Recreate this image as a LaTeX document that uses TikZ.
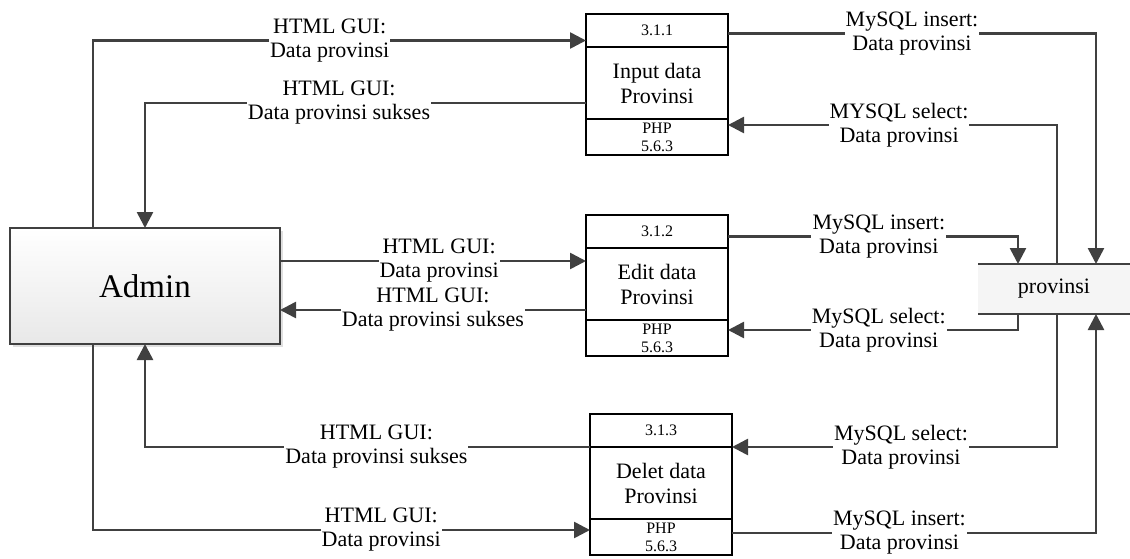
\documentclass[tikz,border=0pt]{standalone}
\usepackage{fontspec}
\setmainfont{Liberation Serif}
\usetikzlibrary{positioning,arrows.meta,shadows}
\definecolor{flowgray}{HTML}{404040}
\tikzset{
  idbox/.style={draw, line width=1.5pt, minimum width=142pt, minimum height=33pt,
    inner sep=0pt, outer sep=0pt, font=\fontsize{16}{18}\selectfont},
  procbox/.style={draw, line width=1.5pt, minimum width=142pt, minimum height=72pt,
    inner sep=0pt, outer sep=0pt, align=center, font=\fontsize{22}{25}\selectfont},
  techbox/.style={draw, line width=1.5pt, minimum width=142pt, minimum height=36pt,
    inner sep=0pt, outer sep=0pt, align=center, font=\fontsize{16}{18}\selectfont},
  entity/.style={draw=flowgray, line width=1.5pt, top color=white, bottom color=black!9,
    drop shadow={shadow xshift=3pt, shadow yshift=-3pt, fill=black!25},
    minimum width=270pt, minimum height=116pt, outer sep=0pt,
    font=\fontsize{33}{38}\selectfont},
  store/.style={fill=black!4, minimum width=152pt, minimum height=50pt,
    inner sep=0pt, outer sep=0pt, font=\fontsize{22}{25}\selectfont},
  storeline/.style={draw=flowgray, line width=1.5pt},
  flow/.style={draw=flowgray, line width=2.6pt, -{Triangle[length=16pt,width=16pt]}},
  lbl/.style={fill=white, inner sep=1pt, align=center, text=black,
    font=\fontsize{22}{24}\selectfont},
}
\begin{document}
\begin{tikzpicture}[x=1pt, y=-1pt]
  \useasboundingbox (0,0) rectangle (1130,558);
  % external entity and data store
  \node[entity] (admin) at (145,286) {Admin};
  \node[store] (store) at (1054,289) {provinsi};
  \draw[storeline] (store.north west) -- (store.north east);
  \draw[storeline] (store.south west) -- (store.south east);
  % processes
  \node[idbox] (p1id) at (657,30.5) {3.1.1};
  \node[procbox, below=0pt of p1id] (p1) {Input data\\Provinsi};
  \node[techbox, below=0pt of p1] (p1php) {PHP\\5.6.3};
  \node[idbox] (p2id) at (657,231.5) {3.1.2};
  \node[procbox, below=0pt of p2id] (p2) {Edit data\\Provinsi};
  \node[techbox, below=0pt of p2] (p2php) {PHP\\5.6.3};
  \node[idbox] (p3id) at (661,430.5) {3.1.3};
  \node[procbox, below=0pt of p3id] (p3) {Delet data\\Provinsi};
  \node[techbox, below=0pt of p3] (p3php) {PHP\\5.6.3};
  % admin <-> processes
  \begin{scope}[every path/.style={flow}]
    \draw ([xshift=83pt]admin.north west) |- ([yshift=-10pt]p1id.west)
      node[lbl, pos=0.74] {HTML GUI:\\Data provinsi};
    \draw ([yshift=-20pt]p1.west) -| ([xshift=135pt]admin.north west)
      node[lbl, pos=0.28] {HTML GUI:\\Data provinsi sukses};
    \draw ([yshift=25pt]admin.east) -- ([yshift=25pt]admin.east -| p2.west)
      node[lbl, pos=0.52] {HTML GUI:\\Data provinsi};
    \draw ([yshift=-26pt]p2.west) -- ([yshift=-26pt]p2.west -| admin.east)
      node[lbl, pos=0.5] {HTML GUI:\\Data provinsi sukses};
    \draw ([xshift=83pt]admin.south west) |- ([yshift=7pt]p3php.west)
      node[lbl, pos=0.79] {HTML GUI:\\Data provinsi};
    \draw (p3id.south west) -| ([xshift=135pt]admin.south west)
      node[lbl, pos=0.24] {HTML GUI:\\Data provinsi sukses};
  \end{scope}
  % processes <-> data store
  \begin{scope}[every path/.style={flow}]
    \draw ([yshift=-3pt]p1id.east) -| ([xshift=-34pt]store.north east)
      node[lbl, pos=0.25] {MySQL insert:\\Data provinsi};
    \draw ([xshift=-73pt]store.north east) |- ([yshift=12pt]p1php.east)
      node[lbl, pos=0.74] {MYSQL select:\\Data provinsi};
    \draw ([yshift=-5pt]p2id.east) -| ([xshift=40pt]store.north west)
      node[lbl, pos=0.26] {MySQL insert:\\Data provinsi};
    \draw ([xshift=40pt]store.south west) |- ([yshift=8pt]p2php.east)
      node[lbl, pos=0.74] {MySQL select:\\Data provinsi};
    \draw ([xshift=-73pt]store.south east) |- (p3id.south east)
      node[lbl, pos=0.74] {MySQL select:\\Data provinsi};
    \draw ([yshift=4pt]p3php.east) -| ([xshift=-34pt]store.south east)
      node[lbl, pos=0.23] {MySQL insert:\\Data provinsi};
  \end{scope}
\end{tikzpicture}
\end{document}
